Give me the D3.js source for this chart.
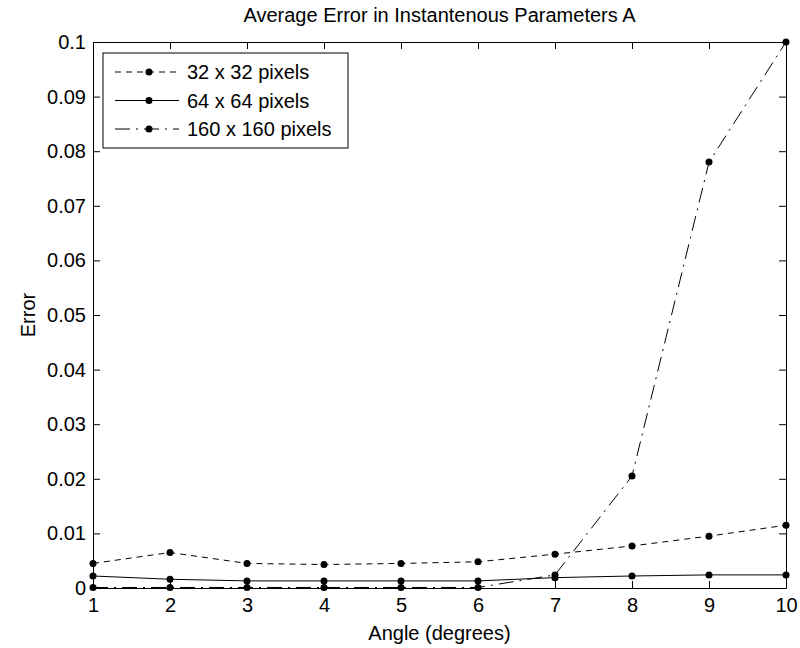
<!DOCTYPE html>
<html>
<head>
<meta charset="utf-8">
<script src="https://cdn.jsdelivr.net/npm/d3@7"></script>
<style>
  body { margin: 0; background: #fff; }
  text { font-family: "Liberation Sans", Arial, sans-serif; fill: #000; }
</style>
</head>
<body>
<div id="chart"></div>
<script>
// data
const angles = [1, 2, 3, 4, 5, 6, 7, 8, 9, 10]
const err32 = [0.0045, 0.0065, 0.0045, 0.0043, 0.0045, 0.0048, 0.0062, 0.0077, 0.0095, 0.0115]
const err64 = [0.0022, 0.0016, 0.0013, 0.0013, 0.0013, 0.0013, 0.0019, 0.0022, 0.0024, 0.0024]
const err160 = [0.0001, 0.0001, 0.0001, 0.0001, 0.0001, 0.0001, 0.0024, 0.0205, 0.078, 0.1]
const seriesNames = ["32 x 32 pixels", "64 x 64 pixels", "160 x 160 pixels"]
const yTicks = [0, 0.01, 0.02, 0.03, 0.04, 0.05, 0.06, 0.07, 0.08, 0.09, 0.1]

const width = 800
const height = 648
const margin = {left: 93, right: 14, top: 42, bottom: 60}
const fontSize = "20px"

const series = [
  {name: seriesNames[0], values: err32, dash: "6,5"},
  {name: seriesNames[1], values: err64, dash: null},
  {name: seriesNames[2], values: err160, dash: "15,6,2,6"}
]

const svg = d3.select("#chart").append("svg")
  .attr("width", width)
  .attr("height", height)

const x = d3.scaleLinear().domain([1, 10]).range([margin.left, width - margin.right])
const y = d3.scaleLinear().domain([0, 0.1]).range([height - margin.bottom, margin.top])

// inward ticks on all four sides
const tick = 7
svg.append("g")
  .attr("transform", `translate(0,${y(0)})`)
  .call(d3.axisBottom(x).tickValues(angles).tickSizeInner(-tick).tickSizeOuter(0).tickPadding(10).tickFormat(d3.format("d")))
svg.append("g")
  .attr("transform", `translate(0,${y(0.1)})`)
  .call(d3.axisTop(x).tickValues(angles).tickSizeInner(-tick).tickSizeOuter(0).tickFormat(""))
svg.append("g")
  .attr("transform", `translate(${x(1)},0)`)
  .call(d3.axisLeft(y).tickValues(yTicks).tickSizeInner(-tick).tickSizeOuter(0).tickPadding(7).tickFormat(d => d === 0 ? "0" : d3.format(".2~f")(d)))
svg.append("g")
  .attr("transform", `translate(${x(10)},0)`)
  .call(d3.axisRight(y).tickValues(yTicks).tickSizeInner(-tick).tickSizeOuter(0).tickFormat(""))

svg.selectAll(".domain").attr("stroke", "#000")
svg.selectAll(".tick line").attr("stroke", "#000")
svg.selectAll(".tick text").style("font-size", fontSize).attr("fill", "#000")
  .style("font-family", "'Liberation Sans', Arial, sans-serif")

// lines and markers
const line = d3.line().x((d, i) => x(angles[i])).y(d => y(d))
series.forEach(s => {
  svg.append("path")
    .datum(s.values)
    .attr("d", line)
    .attr("fill", "none")
    .attr("stroke", "#000")
    .attr("stroke-width", 1)
    .attr("stroke-dasharray", s.dash)
  svg.append("g").selectAll("circle")
    .data(s.values)
    .enter().append("circle")
    .attr("cx", (d, i) => x(angles[i]))
    .attr("cy", d => y(d))
    .attr("r", 3.5)
    .attr("fill", "#000")
})

// legend
const legend = svg.append("g").attr("transform", "translate(103,53)")
legend.append("rect")
  .attr("width", 245).attr("height", 95)
  .attr("fill", "#fff").attr("stroke", "#000")
series.forEach((s, i) => {
  const ly = 19 + i * 28.5
  legend.append("line")
    .attr("x1", 12).attr("x2", 76).attr("y1", ly).attr("y2", ly)
    .attr("stroke", "#000").attr("stroke-dasharray", s.dash)
  legend.append("circle").attr("cx", 46).attr("cy", ly).attr("r", 3.5).attr("fill", "#000")
  legend.append("text").attr("x", 84).attr("y", ly + 7).style("font-size", fontSize).text(s.name)
})

// titles
svg.append("text")
  .attr("x", (x(1) + x(10)) / 2).attr("y", 22)
  .attr("text-anchor", "middle").style("font-size", fontSize)
  .text("Average Error in Instantenous Parameters A")
svg.append("text")
  .attr("x", (x(1) + x(10)) / 2).attr("y", 640)
  .attr("text-anchor", "middle").style("font-size", fontSize)
  .text("Angle (degrees)")
svg.append("text")
  .attr("transform", `translate(35,${(y(0) + y(0.1)) / 2}) rotate(-90)`)
  .attr("text-anchor", "middle").style("font-size", fontSize)
  .text("Error")
</script>
</body>
</html>
